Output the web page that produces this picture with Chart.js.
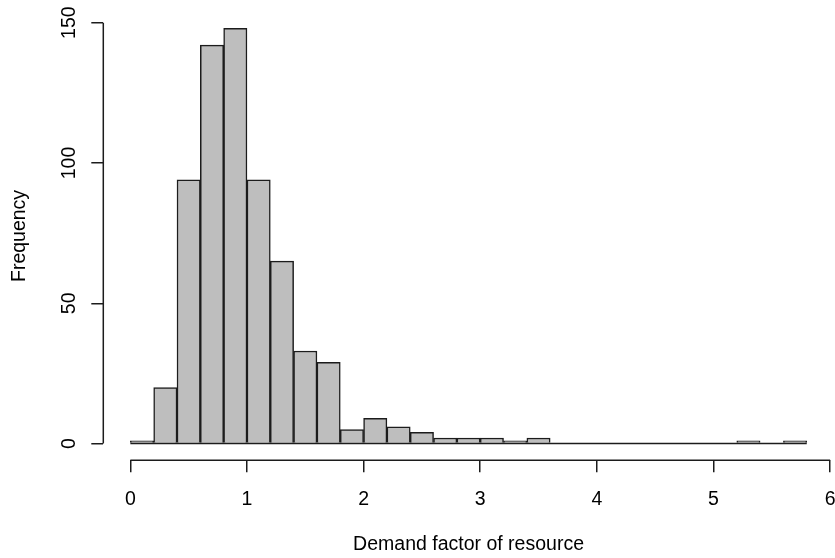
<!DOCTYPE html>
<html>
<head>
<meta charset="utf-8">
<script src="https://cdn.jsdelivr.net/npm/chart.js@4/dist/chart.umd.min.js"></script>
<style>
  html, body { margin: 0; padding: 0; background: #fff; }
  #wrap { width: 835px; height: 558px; }
</style>
</head>
<body>
<div id="wrap"><canvas id="hist"></canvas></div>
<script>
// bin edges of the histogram (width 0.2)
var breaks = [0, 0.2, 0.4, 0.6, 0.8, 1.0, 1.2, 1.4, 1.6, 1.8, 2.0, 2.2, 2.4, 2.6, 2.8,
              3.0, 3.2, 3.4, 3.6, 3.8, 4.0, 4.2, 4.4, 4.6, 4.8, 5.0, 5.2, 5.4, 5.6, 5.8];
// frequency per bin
var counts = [1, 20, 94, 142, 148, 94, 65, 33, 29, 5, 9, 6, 4, 2, 2,
              2, 1, 2, 0, 0, 0, 0, 0, 0, 0, 0, 1, 0, 1];
var xTicks = [0, 1, 2, 3, 4, 5, 6];
var yTicks = [0, 50, 100, 150];

var ink = '#1c1c1c';
var lw = 1.5;
var fontFam = "'Liberation Sans', Arial, sans-serif";
var fs = 19.5;

var bars = counts.map(function(c, i) {
    return { x: (breaks[i] + breaks[i + 1]) / 2, y: c };
});

// R style axes: the line only spans the first to the last tick
var rAxisLines = {
    id: 'rAxisLines',
    afterDraw: function(chart) {
        var ctx = chart.ctx, xs = chart.scales.x, ys = chart.scales.y;
        ctx.save();
        ctx.strokeStyle = ink;
        ctx.lineWidth = lw;
        ctx.beginPath();
        ctx.moveTo(chart.chartArea.left, ys.getPixelForValue(yTicks[0]));
        ctx.lineTo(chart.chartArea.left, ys.getPixelForValue(yTicks[yTicks.length - 1]));
        ctx.moveTo(xs.getPixelForValue(xTicks[0]), xs.top);
        ctx.lineTo(xs.getPixelForValue(xTicks[xTicks.length - 1]), xs.top);
        ctx.stroke();
        ctx.restore();
    }
};

// keep the plot box fixed, no extra room for overhanging labels
function noPad(s) {
    s.paddingTop = 0; s.paddingBottom = 0; s.paddingLeft = 0; s.paddingRight = 0;
}

new Chart(document.getElementById('hist'), {
    type: 'bar',
    data: {
        datasets: [{
            data: bars,
            backgroundColor: '#bebebe',
            borderColor: ink,
            borderWidth: lw,
            barPercentage: 1,
            categoryPercentage: 1,
            order: 2
        }, {
            // zero line under the bins
            type: 'line',
            data: [{ x: breaks[0], y: 0 }, { x: breaks[breaks.length - 1], y: 0 }],
            borderColor: ink,
            borderWidth: lw,
            pointRadius: 0,
            order: 1
        }]
    },
    options: {
        responsive: true,
        maintainAspectRatio: false,
        animation: false,
        layout: { padding: { top: 11.7, right: 1.2, left: 0, bottom: 0 } },
        plugins: { legend: { display: false }, tooltip: { enabled: false } },
        scales: {
            x: {
                type: 'linear',
                min: -0.232,
                max: 6.032,
                offset: false,
                afterBuildTicks: function(s) { s.ticks = xTicks.map(function(v) { return { value: v }; }); },
                afterFit: function(s) { s.height = 97.8; noPad(s); },
                border: { display: false },
                grid: { offset: false, drawOnChartArea: false, drawTicks: true, tickLength: 12, color: ink, lineWidth: lw },
                ticks: { autoSkip: false, maxRotation: 0, padding: 15.3, color: '#000', font: { family: fontFam, size: fs } },
                title: { display: true, text: 'Demand factor of resource', color: '#000', padding: { top: 0, bottom: 1.6 }, font: { family: fontFam, size: fs } }
            },
            y: {
                min: -5.92,
                max: 153.92,
                afterBuildTicks: function(s) { s.ticks = yTicks.map(function(v) { return { value: v }; }); },
                afterFit: function(s) { s.width = 103.3; noPad(s); },
                border: { display: false },
                grid: { drawOnChartArea: false, drawTicks: true, tickLength: 12, color: ink, lineWidth: lw },
                ticks: { minRotation: 90, maxRotation: 90, crossAlign: 'center', padding: 5.5, color: '#000', font: { family: fontFam, size: fs } },
                title: { display: true, text: 'Frequency', color: '#000', padding: { top: 8.4, bottom: 0 }, font: { family: fontFam, size: fs } }
            }
        }
    },
    plugins: [rAxisLines]
});
</script>
</body>
</html>
